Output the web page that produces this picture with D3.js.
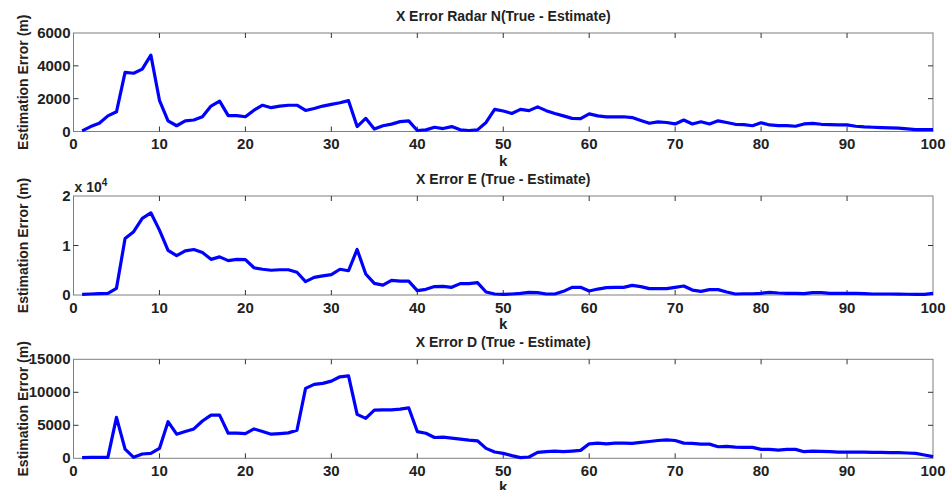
<!DOCTYPE html>
<html><head><meta charset="utf-8">
<script src="https://cdn.jsdelivr.net/npm/d3@7"></script>
<style>body{margin:0;background:#fff}svg{display:block}text{font-family:"Liberation Sans",Arial,sans-serif;font-weight:bold;fill:#222}</style>
</head><body><svg id="c" width="948" height="490"></svg>
<script>
const kValues = d3.range(1, 101);
const errorN = [40,300,500,950,1200,3600,3550,3800,4650,1900,650,350,650,700,900,1550,1850,970,970,900,
1300,1600,1450,1550,1600,1600,1280,1400,1550,1650,1750,1880,300,800,150,350,450,600,650,60,
100,260,180,300,100,60,100,550,1350,1250,1100,1350,1270,1500,1270,1100,950,800,780,1070,
950,890,890,900,850,670,500,590,550,460,700,460,590,460,650,550,440,420,350,530,
400,360,360,320,460,500,440,420,400,400,320,280,260,240,220,200,160,120,120,120];
const errorE = [130,200,270,340,1350,11400,12800,15500,16600,13100,9000,7950,8900,9200,8600,7200,7700,6950,7200,7150,
5500,5200,5000,5100,5100,4600,2700,3550,3850,4100,5200,4900,9200,4250,2350,2000,2950,2800,2800,870,
1150,1700,1750,1550,2300,2300,2500,600,200,130,200,340,540,470,200,200,740,1550,1550,800,
1200,1480,1550,1550,1950,1700,1280,1280,1280,1550,1820,1000,740,1080,1080,600,200,250,250,340,
540,400,340,340,270,470,470,340,340,340,340,270,200,200,200,170,150,130,130,340];
const errorD = [100,150,150,150,6200,1400,150,650,750,1500,5550,3650,4050,4450,5650,6550,6550,3800,3800,3750,
4450,4050,3650,3750,3850,4250,10600,11200,11350,11700,12350,12500,6650,6050,7300,7350,7350,7450,7650,4050,
3800,3150,3200,3050,2900,2750,2650,1500,950,750,400,100,200,900,1000,1100,1000,1100,1200,2200,
2300,2200,2300,2300,2250,2400,2550,2700,2800,2700,2300,2250,2150,2150,1750,1800,1700,1650,1650,1350,
1350,1250,1350,1350,1000,1100,1050,1000,950,950,950,950,900,900,850,850,800,750,500,250];
const xTicks = d3.range(0, 101, 10);
const titles = ["X Error Radar N(True - Estimate)", "X Error E (True - Estimate)", "X Error D (True - Estimate)"];
const yTicksN = [0,2000,4000,6000];
const yTicksE = [0,10000,20000];
const yTickLabelsE = ["0","1","2"];
const yTicksD = [0,5000,10000,15000];

const svg = d3.select("#c");
const left = 73.5, right = 933;
const x = d3.scaleLinear().domain([0,100]).range([left,right]);

const panels = [
  {data: errorN, top: 33, bottom: 131.5, max: 6000, ticks: yTicksN, labels: yTicksN.map(String), title: titles[0]},
  {data: errorE, top: 196, bottom: 295, max: 20000, ticks: yTicksE, labels: yTickLabelsE, title: titles[1], exp: true},
  {data: errorD, top: 359.3, bottom: 458.3, max: 15000, ticks: yTicksD, labels: yTicksD.map(String), title: titles[2]}
];

panels.forEach(p => {
  const y = d3.scaleLinear().domain([0,p.max]).range([p.bottom,p.top]);
  const g = svg.append("g");
  g.append("rect").attr("x",left).attr("y",p.top).attr("width",right-left).attr("height",p.bottom-p.top)
    .attr("fill","none").attr("stroke","#7f7f7f").attr("stroke-width",1);
  xTicks.forEach(t => {
    if (t===0||t===100) return;
    g.append("line").attr("x1",x(t)).attr("x2",x(t)).attr("y1",p.bottom).attr("y2",p.bottom-5).attr("stroke","#333");
    g.append("line").attr("x1",x(t)).attr("x2",x(t)).attr("y1",p.top).attr("y2",p.top+5).attr("stroke","#333");
  });
  p.ticks.forEach(t => {
    if (t===0||t===p.max) return;
    g.append("line").attr("x1",left).attr("x2",left+5).attr("y1",y(t)).attr("y2",y(t)).attr("stroke","#333");
    g.append("line").attr("x1",right).attr("x2",right-5).attr("y1",y(t)).attr("y2",y(t)).attr("stroke","#333");
  });
  g.selectAll(".xl").data(xTicks).enter().append("text")
    .attr("x",d=>x(d)).attr("y",p.bottom+17.5).attr("text-anchor","middle").attr("font-size",15).text(d=>d);
  g.selectAll(".yl").data(p.ticks).enter().append("text")
    .attr("x",left-3).attr("y",(d)=>y(d)+5).attr("text-anchor","end").attr("font-size",15).text((d,i)=>p.labels[i]);
  g.append("text").attr("x",(left+right)/2).attr("y",p.bottom+34).attr("text-anchor","middle").attr("font-size",15).text("k");
  g.append("text").attr("x",(left+right)/2).attr("y",p.top-12).attr("text-anchor","middle").attr("font-size",14).text(p.title);
  g.append("text").attr("transform",`translate(28,${(p.top+p.bottom)/2}) rotate(-90)`).attr("text-anchor","middle").attr("font-size",14).text("Estimation Error (m)");
  if (p.exp) {
    const t = g.append("text").attr("x",left+1).attr("y",p.top-4).attr("font-size",14);
    t.append("tspan").text("x 10");
    t.append("tspan").attr("dy",-6).attr("font-size",10).text("4");
  }
  const line = d3.line().x((d,i)=>x(kValues[i])).y(d=>y(d));
  g.append("path").datum(p.data).attr("d",line).attr("fill","none").attr("stroke","#0000ff").attr("stroke-width",3.2).attr("stroke-linejoin","round");
});
</script></body></html>
